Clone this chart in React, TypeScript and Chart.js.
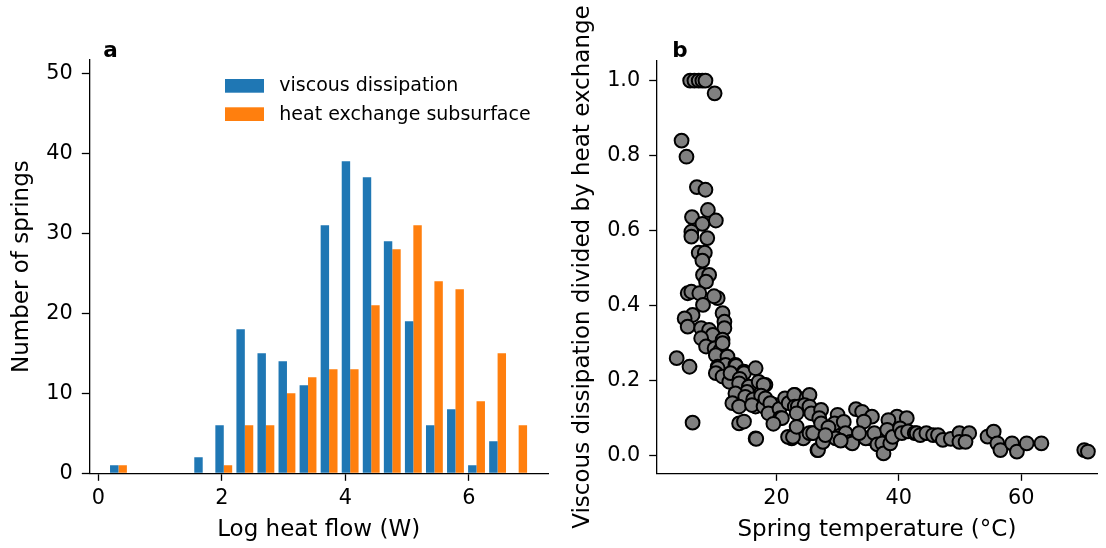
import React, { useEffect, useRef } from "react";
import { Chart, registerables } from "chart.js";

Chart.register(...registerables);

// ---------- Panel a: histogram ----------
const binCenters = [
  0.326, 0.667, 1.008, 1.349, 1.69, 2.031, 2.372, 2.713, 3.054, 3.395,
  3.736, 4.077, 4.418, 4.759, 5.1, 5.441, 5.782, 6.123, 6.464, 6.805,
];
const viscousCounts = [1, 0, 0, 0, 2, 6, 18, 15, 14, 11, 31, 39, 37, 29, 19, 6, 8, 1, 4, 0];
const heatCounts = [1, 0, 0, 0, 0, 1, 6, 6, 10, 12, 13, 13, 21, 28, 31, 24, 23, 9, 15, 6];
const histLabels = ["viscous dissipation", "heat exchange subsurface"];
const histXTicks = [0, 2, 4, 6];
const histYTicks = [0, 10, 20, 30, 40, 50];

// ---------- Panel b: scatter ----------
const springTemp = [
  5.9, 6.6, 7.3, 7.9, 8.4, 9.9, 4.5, 5.3, 7.0, 8.4,
  8.8, 6.2, 10.1, 7.9, 6.1, 6.1, 8.7, 7.3, 8.3, 7.9,
  8.0, 9.0, 8.5, 5.5, 6.1, 7.4, 10.4, 9.8, 8.0, 6.3,
  5.0, 5.5, 11.2, 11.5, 11.5, 7.7, 9.0, 9.6, 7.7, 8.5,
  9.9, 11.2, 10.9, 11.2, 3.7, 5.8, 10.1, 12.0, 10.4, 11.7,
  13.3, 13.4, 10.4, 10.1, 11.2, 14.7, 14.7, 16.6, 12.3, 12.5,
  14.0, 13.9, 15.5, 17.1, 18.2, 17.9, 15.2, 13.3, 14.9, 16.2,
  17.5, 12.8, 13.9, 16.6, 16.0, 17.9, 18.2, 19.8, 19.0, 18.7,
  20.5, 21.4, 22.0, 23.0, 22.9, 24.9, 25.4, 23.0, 23.5, 24.6,
  25.4, 20.6, 20.9, 23.3, 25.7, 27.3, 13.9, 14.7, 6.3, 19.5,
  16.6, 16.7, 22.5, 24.4, 21.9, 22.7, 23.3, 25.7, 25.4, 26.0,
  26.7, 26.8, 27.0, 30.0, 33.0, 34.0, 35.6, 39.7, 41.3, 27.3,
  29.5, 28.5, 31.0, 31.3, 32.1, 32.4, 29.7, 27.6, 28.0, 30.5,
  34.3, 35.4, 34.6, 33.5, 36.0, 36.5, 38.3, 38.1, 37.3, 37.5,
  38.6, 39.0, 40.2, 40.5, 41.5, 42.6, 42.9, 43.5, 44.5, 45.6,
  46.4, 47.2, 48.5, 49.9, 51.5, 49.9, 50.9, 54.5, 55.5, 56.1,
  56.6, 58.5, 59.3, 60.9, 63.3, 70.3, 70.9,
];
const viscRatio = [
  1.0, 1.0, 1.0, 1.0, 1.0, 0.966, 0.84, 0.797, 0.716, 0.709,
  0.655, 0.636, 0.627, 0.618, 0.597, 0.584, 0.58, 0.541, 0.541, 0.52,
  0.482, 0.482, 0.464, 0.433, 0.437, 0.433, 0.42, 0.425, 0.402, 0.375,
  0.366, 0.344, 0.38, 0.357, 0.34, 0.34, 0.335, 0.322, 0.313, 0.291,
  0.286, 0.309, 0.282, 0.3, 0.26, 0.237, 0.268, 0.264, 0.237, 0.242,
  0.242, 0.239, 0.233, 0.22, 0.211, 0.224, 0.22, 0.233, 0.197, 0.22,
  0.205, 0.193, 0.184, 0.197, 0.189, 0.189, 0.17, 0.166, 0.157, 0.15,
  0.16, 0.14, 0.131, 0.131, 0.135, 0.131, 0.153, 0.135, 0.14, 0.113,
  0.125, 0.153, 0.14, 0.162, 0.162, 0.153, 0.162, 0.131, 0.131, 0.135,
  0.131, 0.1, 0.1, 0.113, 0.113, 0.122, 0.086, 0.091, 0.088, 0.085,
  0.046, 0.045, 0.046, 0.046, 0.05, 0.05, 0.077, 0.06, 0.06, 0.06,
  0.015, 0.015, 0.1, 0.109, 0.124, 0.117, 0.104, 0.104, 0.1, 0.086,
  0.086, 0.075, 0.09, 0.06, 0.037, 0.033, 0.046, 0.037, 0.055, 0.04,
  0.091, 0.046, 0.046, 0.06, 0.06, 0.03, 0.095, 0.069, 0.033, 0.006,
  0.033, 0.05, 0.073, 0.06, 0.065, 0.06, 0.06, 0.055, 0.06, 0.055,
  0.055, 0.042, 0.045, 0.06, 0.06, 0.037, 0.037, 0.051, 0.064, 0.033,
  0.015, 0.033, 0.011, 0.033, 0.033, 0.015, 0.011,
];
const scatterXTicks = [20, 40, 60];
const scatterYTicks = [0, 0.2, 0.4, 0.6, 0.8, 1.0];

const FONT = "'DejaVu Sans', sans-serif";
const TICK_FONT = { family: FONT, size: 20.8, lineHeight: 1.2 };
const TITLE_FONT = { family: FONT, size: 23, lineHeight: 1.2 };
const W = 553;
const H = 548;

const axisCommon = {
  grid: {
    display: true,
    drawOnChartArea: false,
    drawTicks: true,
    tickLength: 7.5,
    tickColor: "#000",
    tickWidth: 1.3,
    offset: false,
  },
  border: { display: true, color: "#000", width: 1.3 },
};

function panelLabel(text: string, dx: number, baselineY: number) {
  return {
    id: "panelLabel" + text,
    afterDraw(chart: any) {
      const ctx = chart.ctx;
      ctx.save();
      ctx.font = `bold 21.5px ${FONT}`;
      ctx.fillStyle = "#000";
      ctx.textAlign = "left";
      ctx.textBaseline = "alphabetic";
      ctx.fillText(text, chart.chartArea.left + dx, baselineY);
      ctx.restore();
    },
  };
}

const histLegend = {
  id: "histLegend",
  afterDraw(chart: any) {
    const ctx = chart.ctx;
    const { left, top } = chart.chartArea;
    ctx.save();
    chart.data.datasets.forEach((ds: any, i: number) => {
      const y = top + 19 + i * 28.3;
      ctx.fillStyle = ds.backgroundColor;
      ctx.fillRect(left + 135.7, y, 39, 13.7);
      ctx.fillStyle = "#000";
      ctx.font = `19px ${FONT}`;
      ctx.textAlign = "left";
      ctx.textBaseline = "middle";
      ctx.fillText(ds.label, left + 190, y + 7.5);
    });
    ctx.restore();
  },
};

export default function App() {
  const leftRef = useRef<HTMLCanvasElement>(null);
  const rightRef = useRef<HTMLCanvasElement>(null);

  useEffect(() => {
    const left = new Chart(leftRef.current as HTMLCanvasElement, {
      type: "bar",
      data: {
        datasets: [
          {
            label: histLabels[0],
            data: binCenters.map((x, i) => ({ x, y: viscousCounts[i] })),
            backgroundColor: "#1f77b4",
            borderWidth: 0,
            categoryPercentage: 0.8,
            barPercentage: 1.0,
          },
          {
            label: histLabels[1],
            data: binCenters.map((x, i) => ({ x, y: heatCounts[i] })),
            backgroundColor: "#ff7f0e",
            borderWidth: 0,
            categoryPercentage: 0.8,
            barPercentage: 1.0,
          },
        ],
      } as any,
      options: {
        animation: false,
        responsive: false,
        devicePixelRatio: 1,
        layout: { padding: { top: 60, right: 5, left: 0, bottom: 0 } },
        plugins: { legend: { display: false }, tooltip: { enabled: false } },
        scales: {
          x: {
            type: "linear",
            min: -0.146,
            max: 7.28,
            offset: false,
            ...axisCommon,
            afterBuildTicks: (s: any) => {
              s.ticks = histXTicks.map((v) => ({ value: v }));
            },
            afterFit: (s: any) => {
              s.height = H - 473.3;
            },
            ticks: {
              font: TICK_FONT,
              color: "#000",
              padding: 5,
              maxRotation: 0,
              callback: (v: any) => String(v),
            },
            title: {
              display: true,
              text: "Log heat flow (W)",
              font: TITLE_FONT,
              color: "#000",
              padding: { top: 0, bottom: 4.2 },
            },
          },
          y: {
            type: "linear",
            min: 0,
            max: 51.66,
            ...axisCommon,
            afterBuildTicks: (s: any) => {
              s.ticks = histYTicks.map((v) => ({ value: v }));
            },
            afterFit: (s: any) => {
              s.width = 89.3;
            },
            ticks: {
              font: TICK_FONT,
              color: "#000",
              padding: 9,
              callback: (v: any) => String(v),
            },
            title: {
              display: true,
              text: "Number of springs",
              font: TITLE_FONT,
              color: "#000",
              padding: { top: 8.2, bottom: 0 },
            },
          },
        },
      } as any,
      plugins: [histLegend, panelLabel("a", 14, 56.7)],
    });

    const right = new Chart(rightRef.current as HTMLCanvasElement, {
      type: "scatter",
      data: {
        datasets: [
          {
            label: "springs",
            data: springTemp.map((x, i) => ({ x, y: viscRatio[i] })),
            pointRadius: 6.9,
            pointBorderWidth: 2,
            pointBackgroundColor: "#808080",
            pointBorderColor: "#000",
            showLine: false,
          },
        ],
      } as any,
      options: {
        animation: false,
        responsive: false,
        devicePixelRatio: 1,
        layout: { padding: { top: 60.7, right: 3, left: 0, bottom: 0 } },
        plugins: { legend: { display: false }, tooltip: { enabled: false } },
        scales: {
          x: {
            type: "linear",
            min: 0.435,
            max: 72.4,
            ...axisCommon,
            afterBuildTicks: (s: any) => {
              s.ticks = scatterXTicks.map((v) => ({ value: v }));
            },
            afterFit: (s: any) => {
              s.height = H - 473.3;
            },
            ticks: {
              font: TICK_FONT,
              color: "#000",
              padding: 5,
              maxRotation: 0,
              callback: (v: any) => String(v),
            },
            title: {
              display: true,
              text: "Spring temperature (°C)",
              font: TITLE_FONT,
              color: "#000",
              padding: { top: 0, bottom: 4.2 },
            },
          },
          y: {
            type: "linear",
            min: -0.047,
            max: 1.053,
            ...axisCommon,
            afterBuildTicks: (s: any) => {
              s.ticks = scatterYTicks.map((v) => ({ value: v }));
            },
            afterFit: (s: any) => {
              s.width = 103.7;
            },
            ticks: {
              font: TICK_FONT,
              color: "#000",
              padding: 9,
              callback: (v: any) => Number(v).toFixed(1),
            },
            title: {
              display: true,
              text: "Viscous dissipation divided by heat exchange",
              font: TITLE_FONT,
              color: "#000",
              padding: { top: 16.2, bottom: 0 },
            },
          },
        },
      } as any,
      plugins: [panelLabel("b", 15.5, 56.7)],
    });

    return () => {
      left.destroy();
      right.destroy();
    };
  }, []);

  return (
    <div
      style={{
        position: "absolute",
        left: 0,
        top: 0,
        width: 1106,
        height: 548,
        background: "#fff",
        overflow: "hidden",
      }}
    >
      <canvas
        ref={leftRef}
        width={W}
        height={H}
        style={{ position: "absolute", left: 0, top: 0, width: W, height: H }}
      />
      <canvas
        ref={rightRef}
        width={W}
        height={H}
        style={{ position: "absolute", left: W, top: 0, width: W, height: H }}
      />
    </div>
  );
}
